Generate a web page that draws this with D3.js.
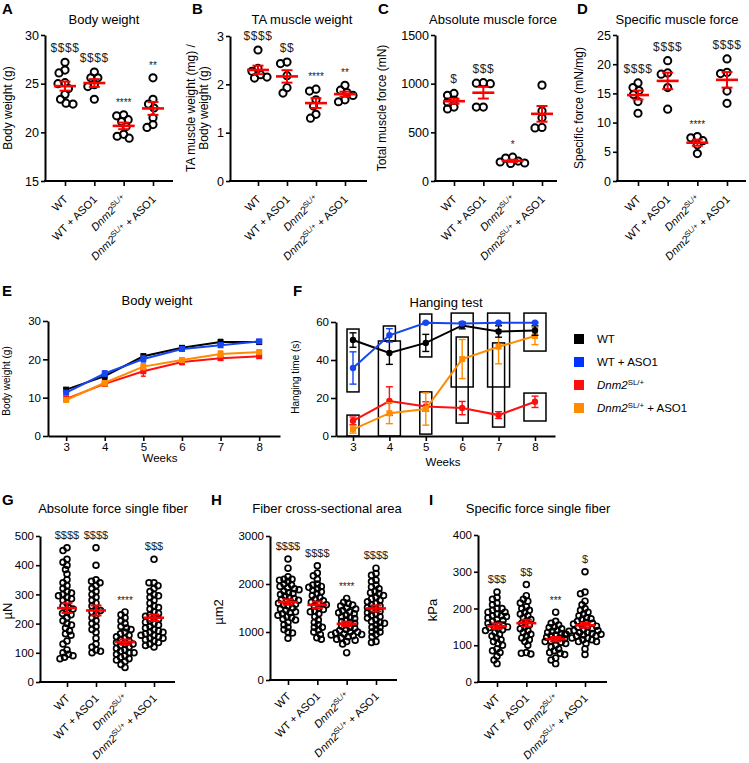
<!DOCTYPE html>
<html>
<head>
<meta charset="utf-8">
<script src="https://cdn.jsdelivr.net/npm/d3@7/dist/d3.min.js"></script>
<style>
html,body{margin:0;padding:0;background:#fff;}
svg{display:block;}
text{font-family:Arial,"Liberation Sans",Helvetica,sans-serif;}
</style>
</head>
<body>
<svg id="chart" width="749" height="763"></svg>
<script>
// ================= DATA =================
const groups = ["WT", "WT + ASO1", "Dnm2SL/+", "Dnm2SL/+ + ASO1"];

// A – Body weight (g)
const bodyWeightA = [
  [27.2, 26.4, 26.1, 25.1, 25.0, 24.5, 23.9, 23.4, 23.0, 22.9],
  [26.2, 25.6, 25.6, 24.9, 24.7, 23.4],
  [21.8, 21.7, 21.3, 21.1, 20.6, 19.8, 19.6, 19.4],
  [25.6, 23.4, 22.9, 22.5, 21.5, 20.8, 20.5]
];
const sigA = ["$$$$", "$$$$", "****", "**"];
const ticksA = [15, 20, 25, 30];

// B – TA muscle weight / body weight
const taWeightB = [
  [2.71, 2.33, 2.27, 2.20, 2.15, 2.13],
  [2.46, 2.43, 2.18, 1.93, 1.82],
  [1.90, 1.86, 1.68, 1.55, 1.38, 1.30],
  [1.98, 1.88, 1.83, 1.77, 1.68, 1.64]
];
const sigB = ["$$$$", "$$", "****", "**"];
const ticksB = [0, 1, 2, 3];

// C – Total muscle force (mN)
const absForceC = [
  [900, 880, 830, 810, 760, 740],
  [1010, 1005, 1000, 760, 760],
  [245, 235, 205, 195, 185, 180],
  [985, 720, 650, 550, 545]
];
const sigC = ["$", "$$$", "*", ""];
const ticksC = [0, 500, 1000, 1500];

// D – Specific force (mN/mg)
const specForceD = [
  [16.8, 16.0, 15.5, 14.8, 13.6, 11.6],
  [20.6, 18.5, 18.3, 16.0, 12.3],
  [7.6, 7.4, 6.9, 6.2, 4.7],
  [20.9, 18.6, 18.4, 15.4, 13.3]
];
const sigD = ["$$$$", "$$$$", "****", "$$$$"];
const ticksD = [0, 5, 10, 15, 20, 25];

// E – Body weight over weeks
const weeks = [3, 4, 5, 6, 7, 8];
const bwMeanE = [
  [12.1, 15.6, 20.8, 23.0, 24.5, 24.5],
  [11.3, 16.3, 20.1, 22.7, 23.7, 24.7],
  [9.7, 13.6, 16.9, 19.3, 20.3, 20.8],
  [9.4, 13.9, 18.1, 19.8, 21.4, 21.9]
];
const bwSemE = [
  [0.5, 0.8, 0.6, 0.5, 0.7, 0.5],
  [0.5, 0.7, 0.8, 0.5, 0.6, 0.4],
  [0.4, 0.6, 1.3, 0.7, 0.5, 0.5],
  [0.5, 0.8, 0.8, 0.5, 0.8, 0.5]
];
const ticksE = [0, 10, 20, 30];

// F – Hanging test (s)
const hangMeanF = [
  [50.5, 43.7, 49.0, 58.2, 55.0, 55.5],
  [35.8, 53.0, 59.6, 59.2, 59.6, 59.6],
  [8.0, 18.4, 15.5, 14.7, 11.0, 18.0],
  [3.5, 12.0, 14.2, 40.5, 47.0, 52.6]
];
const hangSemF = [
  [3.8, 6.0, 4.5, 1.8, 3.0, 2.5],
  [8.5, 3.5, 0.3, 0.5, 0.3, 0.3],
  [2.0, 7.5, 2.5, 3.5, 1.8, 3.0],
  [2.0, 5.5, 8.5, 10.3, 9.0, 4.5]
];
// outlined boxes in panel F: [week, low, high, wide(1)/narrow(0)]
const hangBoxesF = [
  [3, 23.2, 56.3, 0], [3, 0, 11.0, 0],
  [4, 50.0, 57.9, 0], [4, 0, 50.0, 1],
  [5, 41.6, 64.2, 0], [5, 1.0, 23.2, 0],
  [6, 25.8, 64.7, 1], [6, 6.8, 52.1, 0],
  [7, 25.8, 64.7, 1], [7, 4.7, 49.0, 0],
  [8, 44.7, 64.7, 1], [8, 7.9, 22.6, 1]
];
const ticksF = [0, 20, 40, 60];

// G – Absolute force single fiber (µN)
const fiberForceG = [
  [460,450,420,410,400,385,370,350,340,330,320,310,305,300,295,290,285,280,270,260,255,250,240,235,230,220,210,200,195,185,175,165,160,140,130,110,100,95,90,85,80],
  [460,400,350,345,340,330,320,310,300,290,280,270,260,250,245,240,230,220,210,200,190,180,170,150,130,120,110,105,100],
  [240,230,220,210,200,190,185,180,170,165,160,155,150,145,140,135,130,130,125,120,115,110,105,100,100,95,90,85,80,75,70,60,50],
  [420,340,340,330,320,310,300,295,290,280,270,260,255,250,240,235,230,225,220,215,210,205,200,195,190,185,180,175,170,170,165,160,160,155,150,150,145,140,135,130,125,120]
];
const sigG = ["$$$$", "$$$$", "****", "$$$"];
const ticksG = [0, 100, 200, 300, 400, 500];

// H – Fiber cross-sectional area (µm2)
const fiberAreaH = [
  [2520,2330,2150,2100,2100,2080,2050,2000,1980,1950,1920,1900,1880,1850,1820,1800,1780,1750,1720,1700,1680,1660,1640,1620,1600,1580,1560,1540,1500,1480,1450,1420,1400,1380,1350,1320,1300,1270,1250,1200,1150,1100,1050,1000,980,870],
  [2380,2230,2170,2100,2000,1980,1950,1930,1900,1870,1840,1800,1760,1720,1680,1650,1620,1600,1570,1540,1500,1470,1440,1420,1380,1320,1250,1200,1150,1100,1100,1040,1000,950,880,850],
  [1700,1620,1600,1560,1540,1500,1480,1450,1420,1400,1380,1350,1320,1300,1280,1250,1220,1200,1180,1150,1120,1100,1080,1050,1030,1000,1000,980,960,950,940,920,900,880,850,830,800,750,570],
  [2330,2220,2180,2080,2050,1980,1940,1900,1850,1820,1800,1760,1720,1690,1660,1630,1600,1570,1540,1510,1480,1460,1430,1400,1380,1350,1320,1290,1250,1220,1200,1180,1150,1100,1100,1050,1000,1000,950,900,800,780]
];
const sigH = ["$$$$", "$$$$", "****", "$$$$"];
const ticksH = [0, 1000, 2000, 3000];

// I – Specific force single fiber (kPa)
const fiberSpecI = [
  [245,230,225,215,210,200,200,195,190,190,185,180,180,178,175,170,168,165,160,158,155,152,150,148,145,142,140,135,130,125,120,115,110,105,100,90,85,80,70,60,50],
  [265,235,225,220,215,205,200,195,190,185,180,175,170,165,160,155,150,145,140,135,130,125,120,115,110,100,80,78,76],
  [190,165,160,155,150,148,145,140,138,135,132,130,128,125,122,120,118,115,112,110,108,105,100,95,90,85,80,78,75,65,60,50],
  [300,245,240,220,210,200,195,190,185,180,175,172,170,165,162,160,158,155,152,150,148,145,142,140,140,138,135,135,132,130,130,128,125,125,120,120,115,115,110,110,105,90,75]
];
const sigI = ["$$$", "$$", "***", "$"];
const ticksI = [0, 100, 200, 300, 400];

// ================= STYLES =================
const seriesColors = ["#000000", "#1746f0", "#ff1010", "#ff8c00"];
const FONT = 'Arial,"Liberation Sans",Helvetica,sans-serif';
const svg = d3.select("#chart");

// ================= HELPERS =================
function groupLabel(textSel, name) {
  if (name.startsWith("Dnm2SL/+")) {
    textSel.append("tspan").attr("font-style", "italic").text("Dnm2");
    textSel.append("tspan").attr("dy", -4).attr("font-size", "0.68em").text("SL/+");
    const rest = name.slice("Dnm2SL/+".length);
    textSel.append("tspan").attr("dy", 4).text(rest.length ? "\u00a0" + rest.trim() : "");
  } else {
    textSel.text(name);
  }
}

function letter(t, x, y) {
  svg.append("text").attr("x", x).attr("y", y).attr("font-size", 15)
    .attr("font-weight", "bold").attr("fill", "#000").text(t);
}
function title(t, x, y) {
  svg.append("text").attr("x", x).attr("y", y).attr("text-anchor", "middle")
    .attr("font-size", 13).attr("fill", "#000").text(t);
}
function yLabel(lines, x, yc, size) {
  lines.forEach((l, i) => {
    svg.append("text").attr("transform", `translate(${x[i]},${yc}) rotate(-90)`)
      .attr("text-anchor", "middle").attr("font-size", size).attr("fill", "#000").text(l);
  });
}
function styleAxis(a, fs) {
  a.attr("font-family", FONT).attr("font-size", fs);
  a.select(".domain").attr("stroke", "#000").attr("stroke-width", 2);
  a.selectAll(".tick line").attr("stroke", "#000").attr("stroke-width", 1.6);
  a.selectAll(".tick text").attr("fill", "#000");
}

function swarm(ys, dmin) {
  const placed = [];
  ys.forEach(yy => {
    let dx = 0;
    for (let k = 0; k < 600; k++) {
      const c = (k % 2 ? -1 : 1) * Math.ceil(k / 2) * 0.5;
      if (placed.every(p => (p.dx - c) ** 2 + (p.y - yy) ** 2 >= dmin * dmin)) { dx = c; break; }
    }
    placed.push({ dx, y: yy });
  });
  return placed;
}

function dotPanel(o) {
  const g = svg.append("g");
  const y = d3.scaleLinear().domain(o.domain).range([o.yBot, o.yTop]);
  const x = d3.scalePoint().domain(groups).range([o.cx0, o.cx1]);

  const ya = g.append("g").attr("transform", `translate(${o.ax},0)`)
    .call(d3.axisLeft(y).tickValues(o.ticks).tickFormat(d => String(d)).tickSize(4).tickPadding(2).tickSizeOuter(0));
  styleAxis(ya, o.tickFs);

  const xa = g.append("g").attr("transform", `translate(0,${o.yBot})`)
    .call(d3.axisBottom(x).tickSize(5).tickSizeOuter(0).tickFormat(""));
  styleAxis(xa, o.tickFs);
  xa.select(".domain").attr("d", `M${o.ax - 1},0H${o.xEnd}`);
  xa.selectAll(".tick").each(function (d) {
    const t = d3.select(this).append("text")
      .attr("transform", `translate(3,${o.labOff}) rotate(-45)`)
      .attr("text-anchor", "end").attr("font-size", 11).attr("fill", "#000");
    groupLabel(t, d);
  });

  o.data.forEach((vals, i) => {
    const cx = x(groups[i]);
    const pts = swarm(vals.map(v => y(v)), o.dmin);
    g.append("g").selectAll("circle").data(pts).enter().append("circle")
      .attr("cx", d => cx + d.dx).attr("cy", d => d.y).attr("r", o.r)
      .attr("fill", "none").attr("stroke", "#000").attr("stroke-width", o.sw);
    const m = d3.mean(vals), s = d3.deviation(vals) / Math.sqrt(vals.length);
    const eg = g.append("g").attr("stroke", "#ff0000");
    eg.append("line").attr("x1", cx).attr("x2", cx).attr("y1", y(m - s)).attr("y2", y(m + s)).attr("stroke-width", 2);
    [m - s, m + s].forEach(v => eg.append("line").attr("x1", cx - o.capW / 2).attr("x2", cx + o.capW / 2)
      .attr("y1", y(v)).attr("y2", y(v)).attr("stroke-width", 2));
    eg.append("line").attr("x1", cx - o.meanW / 2).attr("x2", cx + o.meanW / 2)
      .attr("y1", y(m)).attr("y2", y(m)).attr("stroke-width", 2.6);
    if (o.sig[i]) {
      const star = o.sig[i].includes("*");
      svg.append("text").attr("x", cx).attr("y", y(d3.max(vals)) - o.sigOff + (star ? 1 : 0))
        .attr("text-anchor", "middle").attr("font-size", star ? 10 : o.sigFs)
        .attr("letter-spacing", star ? 0 : o.sigLs)
        .attr("fill", "#222222").text(o.sig[i]);
    }
  });
}

function linePanel(o) {
  const g = svg.append("g");
  const x = d3.scaleLinear().domain(o.xDomain).range([o.ax, o.xEnd]);
  const y = d3.scaleLinear().domain(o.yDomain).range([o.yBot, o.yTop]);
  if (o.boxes) {
    g.append("g").selectAll("rect").data(o.boxes).enter().append("rect")
      .attr("x", d => x(d[0]) - (d[3] ? 11 : 6)).attr("width", d => d[3] ? 22 : 12)
      .attr("y", d => y(d[2])).attr("height", d => y(d[1]) - y(d[2]))
      .attr("fill", "none").attr("stroke", "#000").attr("stroke-width", 1.5);
  }
  const xa = g.append("g").attr("transform", `translate(0,${o.yBot})`)
    .call(d3.axisBottom(x).tickValues(weeks).tickFormat(d => String(d)).tickSize(5).tickPadding(2).tickSizeOuter(0));
  styleAxis(xa, 11.5);
  const ya = g.append("g").attr("transform", `translate(${o.ax},0)`)
    .call(d3.axisLeft(y).tickValues(o.yTicks).tickFormat(d => String(d)).tickSize(5).tickPadding(2).tickSizeOuter(0));
  styleAxis(ya, 11.5);
  const line = d3.line().x((d, i) => x(weeks[i])).y(d => y(d));
  o.order.forEach(si => {
    const col = seriesColors[si];
    const sg = g.append("g");
    o.mean[si].forEach((m, i) => {
      const s = o.sem[si][i], cx = x(weeks[i]);
      sg.append("line").attr("x1", cx).attr("x2", cx).attr("y1", y(m - s)).attr("y2", y(m + s))
        .attr("stroke", col).attr("stroke-width", 1.4);
      [m - s, m + s].forEach(v => sg.append("line").attr("x1", cx - o.capW / 2).attr("x2", cx + o.capW / 2)
        .attr("y1", y(v)).attr("y2", y(v)).attr("stroke", col).attr("stroke-width", 1.4));
    });
    sg.append("path").attr("d", line(o.mean[si])).attr("fill", "none").attr("stroke", col).attr("stroke-width", 2);
    o.mean[si].forEach((m, i) => {
      const cx = x(weeks[i]);
      if (o.square[si]) {
        sg.append("rect").attr("x", cx - 3).attr("y", y(m) - 3).attr("width", 6).attr("height", 6).attr("fill", col);
      } else {
        sg.append("circle").attr("cx", cx).attr("cy", y(m)).attr("r", 3.2).attr("fill", col);
      }
    });
  });
}

// ================= TOP ROW =================
const topCommon = { r: 3.6, sw: 2, dmin: 6.6, meanW: 22, capW: 11, tickFs: 12.5, labOff: 19, sigOff: 10, sigFs: 12, sigLs: 0.6 };
letter("A", 2, 14); title("Body weight", 104, 24);
yLabel(["Body weight (g)"], [12], 108, 12);
dotPanel(Object.assign({ data: bodyWeightA, sig: sigA, ticks: ticksA, domain: [15, 30], ax: 45, xEnd: 173, cx0: 65, cx1: 153,
  yTop: 35, yBot: 181 }, topCommon));

letter("B", 192, 14); title("TA muscle weight", 302, 24);
yLabel(["TA muscle weight (mg) /", "Body weight (g)"], [195, 208], 108, 12);
dotPanel(Object.assign({ data: taWeightB, sig: sigB, ticks: ticksB, domain: [0, 3], ax: 230, xEnd: 367, cx0: 258, cx1: 345,
  yTop: 36, yBot: 181 }, topCommon));

letter("C", 378, 14); title("Absolute muscle force", 493, 24);
yLabel(["Total muscle force (mN)"], [386], 108, 12);
dotPanel(Object.assign({ data: absForceC, sig: sigC, ticks: ticksC, domain: [0, 1500], ax: 435, xEnd: 557, cx0: 454, cx1: 542,
  yTop: 35, yBot: 181 }, topCommon));

letter("D", 577, 14); title("Specific muscle force", 677, 24);
yLabel(["Specific force (mN/mg)"], [583], 108, 12);
dotPanel(Object.assign({ data: specForceD, sig: sigD, ticks: ticksD, domain: [0, 25], ax: 617, xEnd: 746, cx0: 638, cx1: 727,
  yTop: 35, yBot: 181 }, topCommon));

// ================= MIDDLE ROW =================
letter("E", 2, 296); title("Body weight", 157, 305);
yLabel(["Body weight (g)"], [10], 381, 10);
linePanel({ mean: bwMeanE, sem: bwSemE, xDomain: [2.53, 8.54], yDomain: [0, 30], yTicks: ticksE,
  ax: 48, xEnd: 280, yTop: 321, yBot: 436, capW: 5, order: [2, 3, 0, 1], square: [1, 1, 1, 1] });
svg.append("text").attr("x", 160).attr("y", 462).attr("text-anchor", "middle").attr("font-size", 11.5).attr("fill", "#000").text("Weeks");

letter("F", 293, 296); title("Hanging test", 446, 307);
yLabel(["Hanging time (s)"], [299], 377, 10);
linePanel({ mean: hangMeanF, sem: hangSemF, boxes: hangBoxesF, xDomain: [2.533, 8.55], yDomain: [0, 60], yTicks: ticksF,
  ax: 336, xEnd: 555, yTop: 322, yBot: 436, capW: 7, order: [2, 3, 0, 1], square: [0, 0, 0, 1] });
svg.append("text").attr("x", 443).attr("y", 466).attr("text-anchor", "middle").attr("font-size", 11.5).attr("fill", "#000").text("Weeks");

// legend
const leg = svg.append("g");
groups.forEach((name, i) => {
  const yy = 339 + i * 23;
  leg.append("rect").attr("x", 574).attr("y", yy - 5).attr("width", 10).attr("height", 10)
    .attr("fill", i === 1 ? "#0033ff" : seriesColors[i]);
  const t = leg.append("text").attr("x", 597).attr("y", yy + 4).attr("font-size", 11.5).attr("fill", "#000");
  groupLabel(t, name);
});

// ================= BOTTOM ROW =================
const botCommon = { r: 2.9, sw: 1.7, dmin: 4.6, meanW: 20, capW: 11, tickFs: 11.5, labOff: 17, sigOff: 9, sigFs: 11, sigLs: 0 };
letter("G", 2, 505); title("Absolute force single fiber", 113, 513);
yLabel(["\u00b5N"], [12], 611, 13);
dotPanel(Object.assign({ data: fiberForceG, sig: sigG, ticks: ticksG, domain: [0, 500], ax: 40, xEnd: 175, cx0: 67, cx1: 154,
  yTop: 536, yBot: 682 }, botCommon));

letter("H", 211, 505); title("Fiber cross-sectional area", 327, 513);
yLabel(["\u00b5m2"], [223], 612, 13);
dotPanel(Object.assign({ data: fiberAreaH, sig: sigH, ticks: ticksH, domain: [0, 3000], ax: 270, xEnd: 397, cx0: 288, cx1: 376,
  yTop: 536, yBot: 680 }, botCommon));

letter("I", 429, 505); title("Specific force single fiber", 538, 513);
yLabel(["kPa"], [437], 610, 13);
dotPanel(Object.assign({ data: fiberSpecI, sig: sigI, ticks: ticksI, domain: [0, 400], ax: 478, xEnd: 607, cx0: 497, cx1: 585,
  yTop: 535, yBot: 682 }, botCommon));
</script>
</body>
</html>
